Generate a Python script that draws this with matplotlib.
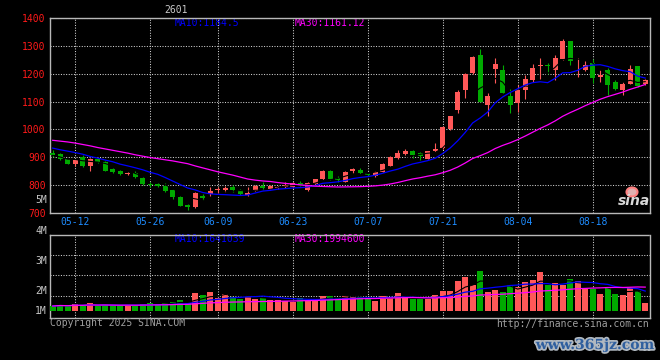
import numpy as np
import pandas as pd
import matplotlib
matplotlib.use('Agg')
import matplotlib.pyplot as plt
from matplotlib.patches import Ellipse
import matplotlib.patheffects as pe

# daily k-line, 2025-05-07 .. 2025-08-27 (06-02 holiday)
dates = [d for d in pd.bdate_range('2025-05-07', '2025-08-27') if d != pd.Timestamp('2025-06-02')]

opens = [917, 911, 893, 875, 901, 869, 895, 883, 858, 851,
         840, 845, 827, 804, 803, 798, 782, 759, 729, 720,
         762, 768, 783, 781, 792, 782, 764, 780, 798, 786,
         789, 792, 792, 807, 782, 804, 821, 851, 826, 812,
         851, 855, 842, 833, 848, 869, 896, 913, 922, 917,
         895, 922, 932, 1002, 1068, 1140, 1204, 1268, 1088, 1218,
         1214, 1120, 1096, 1140, 1178, 1226, 1232, 1214, 1252, 1316,
         1212, 1214, 1240, 1190, 1212, 1172, 1140, 1164, 1226, 1164]
highs = [926, 914, 895, 893, 907, 897, 898, 887, 862, 855,
         848, 850, 830, 812, 808, 806, 786, 762, 732, 774,
         767, 792, 792, 797, 801, 787, 792, 800, 810, 800,
         797, 812, 810, 815, 810, 823, 853, 855, 833, 850,
         863, 863, 845, 850, 879, 903, 925, 931, 926, 920,
         923, 950, 1012, 1050, 1142, 1202, 1262, 1288, 1130, 1256,
         1232, 1144, 1160, 1196, 1236, 1256, 1240, 1268, 1326, 1316,
         1256, 1244, 1252, 1214, 1220, 1178, 1172, 1232, 1228, 1180]
lows = [902, 890, 876, 867, 865, 851, 880, 849, 842, 838,
        836, 825, 802, 792, 795, 776, 752, 724, 711, 718,
        747, 760, 772, 776, 776, 765, 761, 778, 784, 784,
        786, 788, 789, 796, 778, 802, 819, 818, 811, 810,
        843, 839, 832, 831, 846, 867, 895, 908, 899, 890,
        893, 919, 930, 998, 1058, 1112, 1200, 1100, 1048, 1166,
        1130, 1060, 1064, 1108, 1172, 1180, 1200, 1178, 1248, 1230,
        1190, 1208, 1168, 1172, 1124, 1142, 1124, 1162, 1154, 1160]
closes = [907, 895, 877, 890, 869, 895, 883, 851, 846, 840,
          845, 828, 804, 799, 798, 780, 756, 726, 721, 771,
          753, 780, 784, 788, 784, 767, 771, 798, 790, 798,
          794, 802, 807, 798, 807, 821, 851, 821, 820, 848,
          859, 843, 838, 848, 877, 901, 917, 922, 908, 905,
          921, 928, 1008, 1048, 1134, 1200, 1260, 1100, 1120, 1236,
          1132, 1088, 1142, 1182, 1220, 1231, 1228, 1256, 1316, 1244,
          1215, 1232, 1184, 1196, 1160, 1144, 1164, 1218, 1156, 1176]
volumes = [392000, 476000, 392000, 560000, 448000, 644000, 392000, 532000, 392000, 392000,
           476000, 448000, 532000, 644000, 560000, 644000, 728000, 896000, 616000, 1484000,
           1316000, 1568000, 1064000, 1400000, 1148000, 980000, 1232000, 980000, 1064000, 896000,
           896000, 812000, 728000, 1064000, 896000, 896000, 1232000, 1232000, 1092000, 1232000,
           1120000, 1120000, 952000, 840000, 1232000, 1120000, 1484000, 1232000, 1008000, 1008000,
           952000, 1288000, 1652000, 1652000, 2492000, 2828000, 2156000, 3332000, 1568000, 1764000,
           1568000, 2156000, 2016000, 2408000, 2576000, 3248000, 2128000, 2352000, 2156000, 2660000,
           2492000, 1820000, 1820000, 1428000, 2016000, 1428000, 1288000, 1904000, 1652000, 644000]

# moving averages before enough history is on screen
ma10_head = [933, 927, 922, 917, 911, 903, 897, 890, 884]
ma30_head = [961, 958, 955, 951, 946, 941, 935, 930, 925, 920,
             915, 909, 904, 899, 895, 891, 887, 882, 877, 869,
             862, 855, 848, 842, 836, 829, 822, 818, 815]

tick_labels = ['05-12', '05-26', '06-09', '06-23', '07-07', '07-21', '08-04', '08-18']

RED = '#ff5858'
GREEN = '#00aa00'
BLUE = '#0000ff'
MAGENTA = '#ff00ff'
GRID = '#d0d0d0'
BORDER = '#b8b8b8'
MONO = 'DejaVu Sans Mono'

W, H = 660, 360
plt.rcParams['font.family'] = MONO

c = pd.Series(closes, dtype=float)
ma5 = c.rolling(5, min_periods=1).mean()
ma10 = c.rolling(10).mean()
ma10.iloc[:len(ma10_head)] = ma10_head
ma30 = c.rolling(30).mean()
ma30.iloc[:len(ma30_head)] = ma30_head

v = pd.Series(volumes, dtype=float)
vma5 = v.rolling(5, min_periods=1).mean()
vma10 = v.rolling(10, min_periods=1).mean()
vma30 = v.rolling(30, min_periods=1).mean()

x = np.arange(len(closes))
up = np.array(closes) >= np.array(opens)
cols = np.where(up, RED, GREEN)
lab = [d.strftime('%m-%d') for d in dates]
tick_pos = [lab.index(t) for t in tick_labels]


def fx(px):
    return px / W


def fy(py):
    return 1 - py / H


fig = plt.figure(figsize=(W / 100, H / 100), dpi=100, facecolor='black')
ax = fig.add_axes([fx(50), fy(213), 600 / W, 195 / H])
ax2 = fig.add_axes([fx(50), fy(318), 600 / W, 83 / H])

for a in (ax, ax2):
    a.set_facecolor('black')
    a.set_xlim(-0.36, 79.64)
    for s in a.spines.values():
        s.set_color(BORDER)
        s.set_linewidth(1)
    a.set_xticks(tick_pos)
    a.grid(True, color=GRID, linestyle=(0, (1, 1.5)), linewidth=0.75)
    a.tick_params(length=0)

# ---- price panel
ax.set_ylim(700, 1400)
ax.set_yticks(range(700, 1401, 100))
ax.tick_params(axis='y', colors='#ff1a1a', labelsize=7, pad=3)
ax.tick_params(axis='x', colors='#1e8cff', labelsize=7, pad=3)
ax.set_xticklabels(tick_labels)

body_lo = np.minimum(opens, closes)
body_h = np.maximum(np.abs(np.array(closes) - np.array(opens)), 2.5)
ax.vlines(x, lows, highs, colors=cols, linewidth=0.8, zorder=3)
ax.bar(x, body_h, bottom=body_lo, width=0.72, color=cols, linewidth=0, zorder=3)
ax.plot(x, ma5, color='black', linewidth=0.8, zorder=4)
ax.plot(x, ma10, color=BLUE, linewidth=0.9, zorder=4)
ax.plot(x, ma30, color=MAGENTA, linewidth=0.9, zorder=4)

ax.text(fx(175), fy(23.5), 'MA10:%.1f' % ma10.iloc[-1], color=BLUE, fontsize=7,
        va='center', transform=fig.transFigure, zorder=1)
ax.text(fx(295), fy(23.5), 'MA30:%.2f' % 1161.12, color=MAGENTA, fontsize=7,
        va='center', transform=fig.transFigure, zorder=1)

# ---- volume panel
vlo, vhi = -613200, 6358800
ax2.set_ylim(vlo, vhi)
ax2.set_yticks([vlo + f * (vhi - vlo) for f in (0.265, 0.518, 0.759)])
ax2.set_yticklabels([])
ax2.set_xticklabels([])
ax2.spines['top'].set_linestyle((0, (1, 1)))
ax2.bar(x, volumes, width=0.8, color=cols, linewidth=0, zorder=3)
ax2.plot(x, vma5, color='black', linewidth=0.8, zorder=4)
ax2.plot(x, vma10, color=BLUE, linewidth=0.9, zorder=4)
ax2.plot(x, vma30, color=MAGENTA, linewidth=0.9, zorder=4)

ax2.text(fx(175), fy(238.5), 'MA10:1641039', color=BLUE, fontsize=7,
         va='center', transform=fig.transFigure, zorder=1)
ax2.text(fx(295), fy(238.5), 'MA30:1994600', color=MAGENTA, fontsize=7,
         va='center', transform=fig.transFigure, zorder=1)

for txt, py in [('5M', 200), ('4M', 231), ('3M', 261), ('2M', 291), ('1M', 311)]:
    fig.text(fx(47), fy(py), txt, color='#c8c8c8', fontsize=7, ha='right', va='center')

fig.text(fx(176), fy(10), '2601', color='#c8c8c8', fontsize=7, ha='center', va='center')
fig.text(fx(50), fy(323.5), 'Copyright 2025 SINA.COM', color='#a0a0a0', fontsize=7,
         ha='left', va='center')
fig.text(fx(649), fy(324), 'http://finance.sina.com.cn', color='#a0a0a0', fontsize=7,
         ha='right', va='center')

# sina logo
fig.patches.append(Ellipse((fx(632), fy(192)), 11 / W, 9 / H, transform=fig.transFigure,
                           facecolor='#e0b0b0', edgecolor='#ff8080', linewidth=1.5))
fig.text(fx(634), fy(201), 'sina', color='#d8d8d8', fontsize=10, fontweight='bold',
         style='italic', family='DejaVu Sans', ha='center', va='center')

# watermark
wm = fig.text(fx(595), fy(345), 'www.365jz.com', color='#2f5f9f', fontsize=10,
              fontweight='bold', family='DejaVu Serif', ha='center', va='center')
wm.set_path_effects([pe.withStroke(linewidth=2.5, foreground='#b0b8c0')])

fig.savefig('out.png', dpi=100, facecolor='black')
